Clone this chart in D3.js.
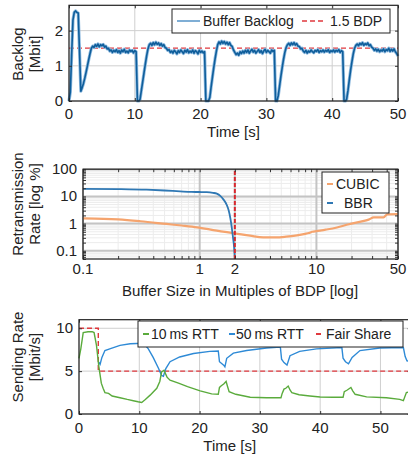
<!DOCTYPE html>
<html>
<head>
<meta charset="utf-8">
<script src="https://cdn.jsdelivr.net/npm/d3@7"></script>
<style>
    body { margin: 0; background: #fff; }
    svg { display: block; font-family: "Liberation Sans", Arial, sans-serif; fill: #222; }
</style>
</head>
<body>
<svg id="fig" width="408" height="455"></svg>
<script>
// ---- top panel: buffer backlog, one sample every 0.2 s ----
let backlogStep = 0.2
let backlog = [
    0.0, 0.25, 1.3, 2.3, 2.52,
    2.56, 2.52, 2.5, 1.4, 0.28,
    0.38, 0.5, 0.65, 0.82, 1.0,
    1.18, 1.35, 1.5, 1.56, 1.52,
    1.6, 1.55, 1.62, 1.54, 1.6,
    1.57, 1.61, 1.53, 1.56, 1.48,
    1.5, 1.42, 1.45, 1.38, 1.44,
    1.4, 1.46, 1.38, 1.43, 1.36,
    1.45, 1.4, 1.47, 1.38, 1.42,
    1.37, 1.45, 1.41, 1.44, 1.37,
    1.43, 1.4, 0.0, 0.0, 0.05,
    0.3, 0.55, 0.8, 1.05, 1.28,
    1.48, 1.6, 1.64, 1.58, 1.66,
    1.6, 1.67, 1.61, 1.65, 1.58,
    1.63, 1.56, 1.6, 1.52, 1.5,
    1.44, 1.46, 1.38, 1.42, 1.36,
    1.44, 1.4, 1.34, 1.43, 1.38,
    1.45, 1.4, 1.35, 1.44, 1.39,
    1.46, 1.37, 1.42, 1.38, 1.45,
    1.36, 1.43, 1.4, 1.34, 1.44,
    1.38, 1.42, 1.37, 1.4, 0.0,
    0.0, 0.0, 0.1, 0.4, 0.68,
    0.95, 1.2, 1.42, 1.6, 1.68,
    1.62, 1.7, 1.64, 1.69, 1.62,
    1.67, 1.6, 1.66, 1.58, 1.55,
    1.45, 1.38, 1.32, 1.36, 1.3,
    1.4, 1.35, 1.42, 1.36, 1.44,
    1.38, 1.45, 1.36, 1.42, 1.47,
    1.39, 1.44, 1.36, 1.41, 1.46,
    1.38, 1.43, 1.35, 1.42, 1.47,
    1.38, 1.44, 1.4, 1.36, 1.45,
    1.41, 1.44, 0.0, 0.0, 0.15,
    0.42, 0.7, 0.95, 1.18, 1.38,
    1.52, 1.6, 1.64, 1.58, 1.65,
    1.6, 1.66, 1.59, 1.63, 1.56,
    1.55, 1.48, 1.5, 1.42, 1.38,
    1.44, 1.36, 1.42, 1.39, 1.45,
    1.4, 1.37, 1.44, 1.41, 1.46,
    1.38, 1.43, 1.4, 1.45, 1.39,
    1.44, 1.41, 1.46, 1.38, 1.43,
    1.4, 1.45, 1.39, 1.44, 1.41,
    1.46, 1.38, 1.43, 1.4, 0.0,
    0.0, 0.05, 0.3, 0.6, 0.88,
    1.12, 1.34, 1.5, 1.58, 1.62,
    1.57, 1.64, 1.6, 1.66, 1.58,
    1.63, 1.6, 1.65, 1.57, 1.6,
    1.53, 1.5, 1.44, 1.48, 1.42,
    1.47, 1.4, 1.45, 1.42, 1.48,
    1.4, 1.46, 1.43, 1.5, 1.41,
    1.47, 1.42, 1.48, 1.4, 1.35,
    1.28
]
let bdpLevel = 1.5
let backlogXTicks = [0, 10, 20, 30, 40, 50]
let backlogYTicks = [0, 1, 2]

// ---- middle panel: retransmission rate vs buffer size ----
let cubicX = [0.1, 0.15, 0.2, 0.31, 0.52, 0.7, 0.95, 1.4, 2.0, 2.7, 3.5, 4.5, 5.5, 6.8, 8.0, 8.6, 9.2, 10, 12, 15, 19, 24, 28, 31, 37.6, 40.5, 50]
let cubicY = [1.55, 1.5, 1.42, 1.22, 0.97, 0.85, 0.73, 0.55, 0.44, 0.36, 0.31, 0.31, 0.33, 0.37, 0.42, 0.45, 0.5, 0.53, 0.6, 0.72, 0.95, 1.18, 1.4, 1.7, 1.7, 2.2, 2.25]
let bbrX = [0.1, 0.2, 0.35, 0.5, 0.68, 0.85, 1.0, 1.15, 1.3, 1.4, 1.5, 1.6, 1.7, 1.77, 1.83, 1.88, 1.93, 1.97, 2.0]
let bbrY = [19, 18.5, 17.6, 16.5, 15.3, 14.6, 14.5, 14.3, 13.5, 12.6, 10.5, 7.6, 5, 3.1, 1.6, 0.75, 0.3, 0.14, 0.05]
let bdpMarker = 2
let retxXTicks = [0.1, 1, 2, 10, 50]
let retxYTicks = [0.1, 1, 10, 100]

// ---- bottom panel: sending rates of two flows ----
let rtt10T = [0, 0.3, 0.7, 1.5, 2.2, 2.5, 2.9, 3.3, 3.7, 4.0, 4.3, 4.9, 5.5, 6.8, 8.0, 9.0, 9.8, 10.4, 11.0, 11.8, 12.9, 13.4, 13.7, 14.1, 14.6, 15.1, 16.5, 18.0, 20.1, 22.0, 23.1, 23.3, 23.6, 24.0, 24.4, 24.6, 24.9, 26.0, 28.4, 31.1, 33.5, 33.7, 34.0, 34.3, 34.7, 35.0, 35.3, 36.5, 38.3, 40.0, 42.1, 43.8, 44.0, 44.5, 45.1, 45.4, 45.8, 47.7, 51.0, 53.2, 53.8, 54.3, 55]
let rtt10 = [6.5, 7.6, 9.5, 9.6, 9.6, 9.5, 8.0, 5.5, 3.6, 3.0, 2.5, 2.4, 2.1, 1.9, 1.7, 1.55, 1.43, 1.35, 1.7, 2.2, 3.0, 3.8, 4.9, 5.1, 4.3, 3.95, 3.6, 3.2, 2.7, 2.35, 2.3, 3.1, 3.3, 3.5, 3.8, 3.3, 2.6, 2.3, 1.95, 1.9, 1.9, 2.4, 2.9, 3.0, 3.26, 2.8, 2.5, 2.25, 2.1, 1.98, 1.95, 1.95, 2.6, 2.8, 3.1, 2.7, 2.3, 2.0, 1.9, 1.7, 1.55, 2.5, 2.6]
let rtt50T = [3.2, 3.5, 3.8, 4.3, 5.1, 6.8, 8.5, 10.7, 11.5, 12.3, 13.2, 13.7, 14.0, 14.4, 15.1, 16.7, 19.0, 21.7, 23.1, 23.3, 24.0, 24.2, 24.5, 25.6, 27.8, 31.1, 33.4, 33.6, 34.0, 34.5, 35.0, 36.6, 39.4, 43.6, 43.8, 44.2, 44.7, 45.3, 46.6, 49.9, 53.8, 54.1, 54.4, 55]
let rtt50 = [6.1, 5.8, 6.6, 7.4, 7.6, 8.0, 8.2, 8.25, 7.6, 6.6, 5.3, 4.5, 4.4, 5.3, 6.1, 6.65, 7.05, 7.3, 7.35, 6.1, 5.7, 5.5, 6.5, 7.1, 7.4, 7.7, 7.8, 6.4, 6.0, 5.7, 6.8, 7.3, 7.6, 7.75, 6.5, 6.1, 5.85, 6.6, 7.4, 7.7, 7.75, 6.7, 6.2, 6.1]
let fairT = [0, 3.2, 3.2, 55]
let fairShare = [10, 10, 5, 5]
let rateXTicks = [0, 10, 20, 30, 40, 50]
let rateYTicks = [0, 5, 10]

let svg = d3.select("#fig")
let tickFont = 15
let labelFont = 15

function frame(g, x, y, xTicks, yTicks, opts) {
    let x0 = x.range()[0], x1 = x.range()[1]
    let y0 = y.range()[0], y1 = y.range()[1]

    // minor grid (log panel only)
    if (opts.minorX) {
        g.selectAll(".mgx").data(opts.minorX).enter().append("line")
            .attr("x1", d => x(d)).attr("x2", d => x(d))
            .attr("y1", y0).attr("y2", y1)
            .attr("stroke", "#ececec").attr("stroke-width", 1)
    }
    if (opts.minorY) {
        g.selectAll(".mgy").data(opts.minorY).enter().append("line")
            .attr("x1", x0).attr("x2", x1)
            .attr("y1", d => y(d)).attr("y2", d => y(d))
            .attr("stroke", "#ececec").attr("stroke-width", 1)
    }

    g.selectAll(".gx").data(xTicks).enter().append("line")
        .attr("x1", d => x(d)).attr("x2", d => x(d))
        .attr("y1", y0).attr("y2", y1)
        .attr("stroke", opts.gridColor).attr("stroke-width", opts.gridWidth)
    g.selectAll(".gy").data(yTicks).enter().append("line")
        .attr("x1", x0).attr("x2", x1)
        .attr("y1", d => y(d)).attr("y2", d => y(d))
        .attr("stroke", opts.gridColor).attr("stroke-width", opts.gridWidth)
}

function axes(g, x, y, xTicks, yTicks, opts) {
    let x0 = x.range()[0], x1 = x.range()[1]
    let y0 = y.range()[0], y1 = y.range()[1]
    let allX = xTicks.concat(opts.minorX || [])
    let allY = yTicks.concat(opts.minorY || [])

    // inward tick marks on all four sides
    g.append("g").attr("transform", `translate(0,${y0})`)
        .call(d3.axisBottom(x).tickValues(allX).tickSize(-3).tickFormat(""))
        .call(a => a.select(".domain").remove())
    g.append("g").attr("transform", `translate(0,${y1})`)
        .call(d3.axisTop(x).tickValues(allX).tickSize(-3).tickFormat(""))
        .call(a => a.select(".domain").remove())
    g.append("g").attr("transform", `translate(${x0},0)`)
        .call(d3.axisLeft(y).tickValues(allY).tickSize(-3).tickFormat(""))
        .call(a => a.select(".domain").remove())
    g.append("g").attr("transform", `translate(${x1},0)`)
        .call(d3.axisRight(y).tickValues(allY).tickSize(-3).tickFormat(""))
        .call(a => a.select(".domain").remove())
    g.selectAll(".tick line").attr("stroke", "#333")

    g.append("rect")
        .attr("x", x0).attr("y", y1)
        .attr("width", x1 - x0).attr("height", y0 - y1)
        .attr("fill", "none").attr("stroke", "#222").attr("stroke-width", 1.2)

    g.selectAll(".xl").data(xTicks).enter().append("text")
        .attr("x", d => x(d)).attr("y", y0 + opts.xLabelDy)
        .attr("text-anchor", "middle").style("font-size", tickFont)
        .text(d => d)
    g.selectAll(".yl").data(yTicks).enter().append("text")
        .attr("x", x0 - 6).attr("y", d => y(d) + 5)
        .attr("text-anchor", "end").style("font-size", tickFont)
        .text(d => d)

    g.append("text")
        .attr("x", opts.xTitleX).attr("y", opts.xTitleY)
        .attr("text-anchor", "middle").style("font-size", labelFont)
        .text(opts.xTitle)

    let yt = g.append("text")
        .attr("transform", `translate(${opts.yTitleX},${opts.yTitleY}) rotate(-90)`)
        .attr("text-anchor", "middle").style("font-size", labelFont)
    yt.append("tspan").attr("x", 0).attr("dy", 0).text(opts.yTitle[0])
    yt.append("tspan").attr("x", 0).attr("dy", "1.15em").text(opts.yTitle[1])
}

function legendBox(g, x, y, w, h) {
    g.append("rect")
        .attr("x", x).attr("y", y).attr("width", w).attr("height", h)
        .attr("fill", "#fff").attr("stroke", "#222").attr("stroke-width", 1)
}

// ================= panel 1 =================
{
    let g = svg.append("g")
    let x = d3.scaleLinear().domain([0, 50]).range([69, 398])
    let y = d3.scaleLinear().domain([0, 2.72]).range([101, 5.3])

    frame(g, x, y, backlogXTicks, backlogYTicks, { gridColor: "#cfcfcf", gridWidth: 1 })

    g.append("line")
        .attr("x1", x(0)).attr("x2", x(50))
        .attr("y1", y(bdpLevel)).attr("y2", y(bdpLevel))
        .attr("stroke", "#e0393e").attr("stroke-width", 1.3)
        .attr("stroke-dasharray", "5,3")

    let line = d3.line()
        .x((d, i) => x(i * backlogStep))
        .y(d => y(d))
    // soft halo first, the noisy trace looks blurred in the original
    g.append("path")
        .datum(backlog)
        .attr("d", line)
        .attr("fill", "none")
        .attr("stroke", "#8fbadf")
        .attr("stroke-width", 3.2)
        .attr("stroke-linejoin", "round")
    g.append("path")
        .datum(backlog)
        .attr("d", line)
        .attr("fill", "none")
        .attr("stroke", "#0f5e9b")
        .attr("stroke-width", 1.6)
        .attr("stroke-linejoin", "round")

    axes(g, x, y, backlogXTicks, backlogYTicks, {
        xLabelDy: 18, xTitle: "Time [s]", xTitleX: x(25), xTitleY: 137,
        yTitle: ["Backlog", "[Mbit]"], yTitleX: 23, yTitleY: 54
    })

    legendBox(g, 172, 9, 218, 24)
    g.append("line").attr("x1", 177).attr("x2", 200).attr("y1", 21).attr("y2", 21)
        .attr("stroke", "#5f9acb").attr("stroke-width", 1.6)
    g.append("text").attr("x", 203).attr("y", 26).style("font-size", 14).text("Buffer Backlog")
    g.append("line").attr("x1", 302).attr("x2", 326).attr("y1", 21).attr("y2", 21)
        .attr("stroke", "#e0393e").attr("stroke-width", 1.3).attr("stroke-dasharray", "5,3")
    g.append("text").attr("x", 330).attr("y", 26).style("font-size", 14).text("1.5 BDP")
}

// ================= panel 2 =================
{
    let g = svg.append("g")
    let x = d3.scaleLog().domain([0.1, 50]).range([83, 398])
    let y = d3.scaleLog().domain([0.05, 100]).range([259, 169.2])

    let minorX = x.ticks().filter(d => retxXTicks.indexOf(d) < 0)
    let minorY = y.ticks().filter(d => retxYTicks.indexOf(d) < 0)

    frame(g, x, y, retxXTicks, retxYTicks, { gridColor: "#c4c4c4", gridWidth: 2, minorX: minorX, minorY: minorY })

    let cubic = cubicX.map((d, i) => [d, cubicY[i]])
    let bbr = bbrX.map((d, i) => [d, bbrY[i]])
    let line = d3.line().curve(d3.curveMonotoneX)
        .x(d => x(d[0]))
        .y(d => y(d[1]))

    g.append("path").datum(cubic).attr("d", line)
        .attr("fill", "none").attr("stroke", "#f5a46e").attr("stroke-width", 2.2)
    g.append("path").datum(bbr).attr("d", line)
        .attr("fill", "none").attr("stroke", "#2f78b4").attr("stroke-width", 1.8)

    g.append("line")
        .attr("x1", x(bdpMarker)).attr("x2", x(bdpMarker))
        .attr("y1", y.range()[0]).attr("y2", y.range()[1])
        .attr("stroke", "#d9292e").attr("stroke-width", 2)
        .attr("stroke-dasharray", "4,2")

    axes(g, x, y, retxXTicks, retxYTicks, {
        minorX: minorX, minorY: minorY,
        xLabelDy: 15, xTitle: "Buffer Size in Multiples of BDP [log]", xTitleX: 240, xTitleY: 296,
        yTitle: ["Retransmission", "Rate [log %]"], yTitleX: 23, yTitleY: 204
    })

    legendBox(g, 322, 172, 67, 41)
    g.append("line").attr("x1", 327).attr("x2", 333).attr("y1", 184).attr("y2", 184)
        .attr("stroke", "#f5a46e").attr("stroke-width", 2)
    g.append("text").attr("x", 336).attr("y", 189).style("font-size", 14).text("CUBIC")
    g.append("line").attr("x1", 327).attr("x2", 333).attr("y1", 203).attr("y2", 203)
        .attr("stroke", "#2f78b4").attr("stroke-width", 2)
    g.append("text").attr("x", 344).attr("y", 208).style("font-size", 14).text("BBR")
}

// ================= panel 3 =================
{
    let g = svg.append("g")
    let x = d3.scaleLinear().domain([0, 55]).range([79, 410.6])
    let y = d3.scaleLinear().domain([0, 11]).range([414, 319.7])

    frame(g, x, y, rateXTicks, rateYTicks, { gridColor: "#cfcfcf", gridWidth: 1 })

    let line = d3.line()
        .x(d => x(d[0]))
        .y(d => y(d[1]))

    g.append("path").datum(fairT.map((d, i) => [d, fairShare[i]])).attr("d", line)
        .attr("fill", "none").attr("stroke", "#e0393e").attr("stroke-width", 1.4)
        .attr("stroke-dasharray", "5,3")
    g.append("path").datum(rtt50T.map((d, i) => [d, rtt50[i]])).attr("d", line)
        .attr("fill", "none").attr("stroke", "#2e8ad6").attr("stroke-width", 1.4)
    g.append("path").datum(rtt10T.map((d, i) => [d, rtt10[i]])).attr("d", line)
        .attr("fill", "none").attr("stroke", "#5aab3c").attr("stroke-width", 1.4)

    axes(g, x, y, rateXTicks, rateYTicks, {
        xLabelDy: 19, xTitle: "Time [s]", xTitleX: x(25), xTitleY: 451,
        yTitle: ["Sending Rate", "[Mbit/s]"], yTitleX: 23, yTitleY: 357
    })

    legendBox(g, 138, 321, 265, 26)
    g.append("line").attr("x1", 143).attr("x2", 149).attr("y1", 334).attr("y2", 334)
        .attr("stroke", "#5aab3c").attr("stroke-width", 2)
    g.append("text").attr("x", 151).attr("y", 339).style("font-size", 14).text("10\u2009ms RTT")
    g.append("line").attr("x1", 229).attr("x2", 235).attr("y1", 334).attr("y2", 334)
        .attr("stroke", "#2e8ad6").attr("stroke-width", 2)
    g.append("text").attr("x", 236).attr("y", 339).style("font-size", 14).text("50\u2009ms RTT")
    g.append("line").attr("x1", 316).attr("x2", 321).attr("y1", 334).attr("y2", 334)
        .attr("stroke", "#e0393e").attr("stroke-width", 2)
    g.append("text").attr("x", 326).attr("y", 339).style("font-size", 14).text("Fair Share")
}
</script>
</body>
</html>
